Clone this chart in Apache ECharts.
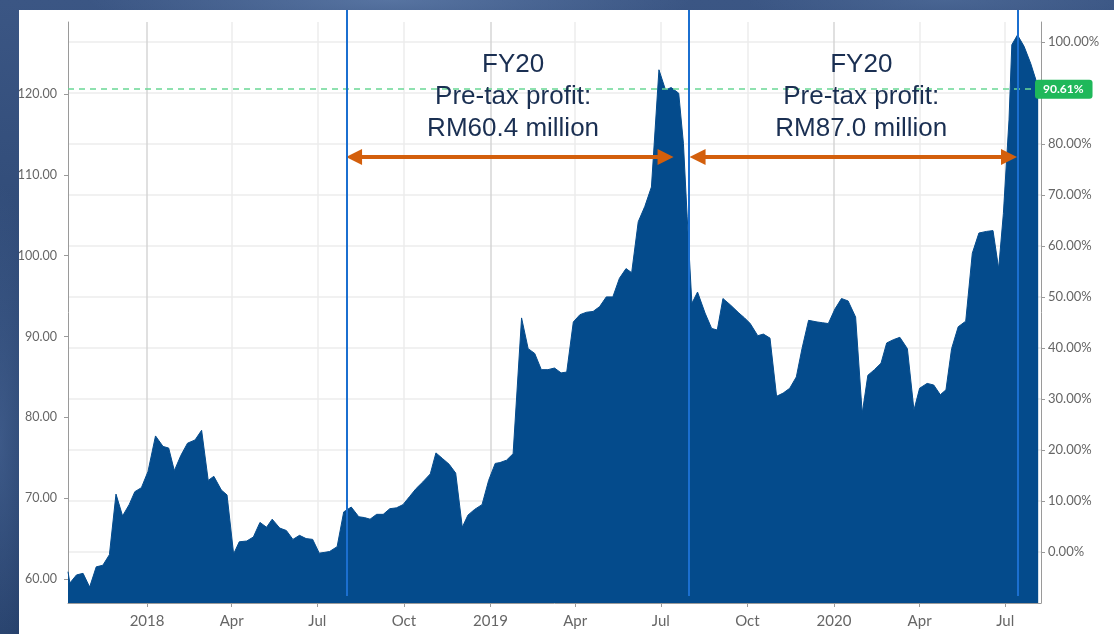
<!DOCTYPE html>
<html>
<head>
<meta charset="utf-8">
<script src="https://cdn.jsdelivr.net/npm/echarts@6/dist/echarts.min.js"></script>
<style>
  html, body {
    margin: 0;
    width: 1114px;
    height: 634px;
    overflow: hidden;
  }
  body {
    background:
      radial-gradient(ellipse 300px 40px at 35% 0%, rgba(110, 140, 185, 0.55), transparent),
      radial-gradient(ellipse 200px 30px at 85% 0%, rgba(90, 120, 165, 0.45), transparent),
      radial-gradient(ellipse 40px 260px at 0% 70%, rgba(80, 110, 160, 0.5), transparent),
      linear-gradient(180deg, #3b5684 0%, #2d4874 50%, #243e68 100%);
  }
  #chart {
    position: absolute;
    left: 19px;
    top: 10px;
    width: 1095px;
    height: 624px;
    background: #fff;
  }
</style>
</head>
<body>
<div id="chart"></div>
<script>
// weekly closing prices
const dates2017 = ['2017-10-09', '2017-10-11', '2017-10-18', '2017-10-25', '2017-11-01', '2017-11-08', '2017-11-15',
  '2017-11-22', '2017-11-29', '2017-12-06', '2017-12-13', '2017-12-19', '2017-12-26'];
const prices2017 = [60.9, 59.5, 60.5, 60.7, 59.0, 61.5, 61.7, 63.0, 70.5, 67.8, 69.2, 70.8, 71.3];

const dates2018 = ['2018-01-02', '2018-01-10', '2018-01-18', '2018-01-24', '2018-01-30', '2018-02-06', '2018-02-13',
  '2018-02-21', '2018-02-28', '2018-03-07', '2018-03-13', '2018-03-21', '2018-03-27', '2018-04-03', '2018-04-09',
  '2018-04-17', '2018-04-24', '2018-05-01', '2018-05-08', '2018-05-14', '2018-05-22', '2018-05-29', '2018-06-05',
  '2018-06-12', '2018-06-19', '2018-06-26', '2018-07-03', '2018-07-09', '2018-07-14', '2018-07-22', '2018-07-29',
  '2018-08-06', '2018-08-14', '2018-08-20', '2018-08-26', '2018-09-02', '2018-09-09', '2018-09-16', '2018-09-23',
  '2018-09-30', '2018-10-07', '2018-10-14', '2018-10-21', '2018-10-29', '2018-11-04', '2018-11-11', '2018-11-18',
  '2018-11-25', '2018-12-02', '2018-12-08', '2018-12-15', '2018-12-23', '2018-12-30'];
const prices2018 = [73.3, 77.7, 76.4, 76.2, 73.4, 75.3, 76.8, 77.2, 78.4, 72.2, 72.7, 71.0, 70.4, 63.1, 64.6,
  64.7, 65.2, 67.0, 66.4, 67.4, 66.3, 66.0, 64.9, 65.4, 65.0, 64.9, 63.2, 63.3, 63.4, 64.0, 68.3,
  68.9, 67.7, 67.6, 67.4, 68.0, 68.0, 68.7, 68.8, 69.2, 70.2, 71.2, 72.0, 73.0, 75.6, 74.9, 74.2,
  73.1, 66.4, 67.9, 68.6, 69.2, 72.2];

const dates2019 = ['2019-01-06', '2019-01-11', '2019-01-18', '2019-01-25', '2019-02-03', '2019-02-10', '2019-02-17',
  '2019-02-24', '2019-03-03', '2019-03-10', '2019-03-17', '2019-03-23', '2019-03-30', '2019-04-06', '2019-04-13',
  '2019-04-20', '2019-04-27', '2019-05-04', '2019-05-11', '2019-05-18', '2019-05-25', '2019-05-31', '2019-06-07',
  '2019-06-14', '2019-06-21', '2019-06-29', '2019-07-06', '2019-07-12', '2019-07-20', '2019-07-25', '2019-07-29',
  '2019-08-03', '2019-08-09', '2019-08-17', '2019-08-24', '2019-08-30', '2019-09-05', '2019-09-13', '2019-09-22',
  '2019-09-28', '2019-10-04', '2019-10-12', '2019-10-18', '2019-10-25', '2019-11-01', '2019-11-08', '2019-11-15',
  '2019-11-22', '2019-11-28', '2019-12-05', '2019-12-14', '2019-12-20', '2019-12-26'];
const prices2019 = [74.3, 74.4, 74.7, 75.5, 92.3, 88.5, 87.9, 85.9, 85.9, 86.1, 85.5, 85.6, 91.8, 92.7, 93.0,
  93.1, 93.7, 94.9, 94.9, 97.2, 98.4, 97.9, 104.2, 106.1, 108.5, 123.0, 120.5, 120.8, 120.1, 113.9, 104.8,
  94.1, 95.5, 92.9, 91.0, 90.8, 94.7, 93.9, 92.9, 92.3, 91.6, 90.1, 90.3, 89.8, 82.6, 83.0, 83.6,
  85.0, 88.5, 92.0, 91.8, 91.7, 91.6];

const dates2020 = ['2020-01-02', '2020-01-09', '2020-01-16', '2020-01-24', '2020-01-31', '2020-02-06', '2020-02-13',
  '2020-02-20', '2020-02-26', '2020-03-04', '2020-03-11', '2020-03-19', '2020-03-26', '2020-04-01', '2020-04-09',
  '2020-04-16', '2020-04-23', '2020-04-29', '2020-05-05', '2020-05-12', '2020-05-20', '2020-05-27', '2020-06-03',
  '2020-06-11', '2020-06-18', '2020-06-24', '2020-06-29', '2020-07-05', '2020-07-08', '2020-07-14', '2020-07-21',
  '2020-07-28', '2020-08-03', '2020-08-05'];
const prices2020 = [93.4, 94.7, 94.4, 92.4, 80.5, 85.2, 85.9, 86.7, 89.2, 89.6, 89.9, 88.5, 80.9, 83.6, 84.2,
  84.0, 82.8, 83.4, 88.5, 91.2, 91.9, 100.3, 102.8, 103.0, 103.1, 98.4, 105.2, 116.8, 126.1, 127.3, 125.9,
  123.8, 121.6, 120.6];

// axis ticks
const xTickDates = ['2018-01-01', '2018-04-01', '2018-07-01', '2018-10-01', '2019-01-01', '2019-04-01',
  '2019-07-01', '2019-10-01', '2020-01-01', '2020-04-01', '2020-07-01'];
const priceTicks = [60, 70, 80, 90, 100, 110, 120];
const percentTicks = [0, 10, 20, 30, 40, 50, 60, 70, 80, 90, 100];
const monthNames = ['Jan', 'Feb', 'Mar', 'Apr', 'May', 'Jun', 'Jul', 'Aug', 'Sep', 'Oct', 'Nov', 'Dec'];

// annotations
const fyLineDates = ['2018-08-01', '2019-07-31', '2020-07-14'];
const arrowRanges = [['2018-08-09', '2019-07-06'], ['2019-08-09', '2020-07-05']];
const arrowPrice = 112.2;
const profitTexts = ['FY20\nPre-tax profit:\nRM60.4 million', 'FY20\nPre-tax profit:\nRM87.0 million'];
const profitTextDates = ['2019-01-25', '2020-01-30'];
const profitTextPrice = 119.7;
const changeLabel = '90.61%';

const parse = function (s) { return echarts.time.parse(s).getTime(); };

const dates = dates2017.concat(dates2018, dates2019, dates2020);
const prices = prices2017.concat(prices2018, prices2019, prices2020);
const lastPrice = prices[prices.length - 1];

const xMin = parse('2017-10-09');
const xMax = parse('2020-08-08');

const chart = echarts.init(document.getElementById('chart'));

const labelFont = { fontFamily: 'Lato', color: '#666' };

const markLineData = [
  {
    yAxis: lastPrice,
    lineStyle: { color: '#6ad895', type: [6, 5], width: 1.5 },
    label: {
      show: true,
      position: 'end',
      distance: -6,
      formatter: changeLabel,
      color: '#fff',
      fontFamily: 'Lato',
      fontWeight: 'bold',
      fontSize: 12,
      backgroundColor: '#1fb85a',
      borderRadius: 3,
      padding: [4, 9, 3, 8]
    }
  }
];
arrowRanges.forEach(function (r) {
  markLineData.push([
    { coord: [parse(r[0]), arrowPrice], symbol: 'triangle', symbolSize: 16,
      lineStyle: { color: '#d35f0c', width: 4, type: 'solid' }, label: { show: false } },
    { coord: [parse(r[1]), arrowPrice], symbol: 'triangle', symbolSize: 16 }
  ]);
});

// the FY divider lines run above the plot, so they live on a taller overlay grid
const fyMarkData = fyLineDates.map(function (d) {
  return [{ coord: [parse(d), 1] }, { coord: [parse(d), 0] }];
});

chart.setOption({
  animation: false,
  grid: [
    { left: 49, right: 73, top: 12, bottom: 31, outerBoundsMode: 'none', containLabel: false },
    { left: 49, right: 73, top: 0, bottom: 38, outerBoundsMode: 'none', containLabel: false }
  ],
  xAxis: [
    {
      type: 'value',
      gridIndex: 0,
      min: xMin,
      max: xMax,
      axisLine: { onZero: false, lineStyle: { color: '#9a9a9a', width: 1 } },
      axisTick: {
        show: true,
        length: 4,
        customValues: xTickDates.map(parse),
        lineStyle: { color: '#9a9a9a' }
      },
      axisLabel: Object.assign({
        fontSize: 15,
        margin: 11,
        customValues: xTickDates.map(parse),
        formatter: function (val) {
          const d = new Date(val);
          return d.getMonth() === 0 ? String(d.getFullYear()) : monthNames[d.getMonth()];
        }
      }, labelFont),
      splitLine: {
        show: true,
        lineStyle: { color: ['#d6d6d6', '#ececec', '#ececec', '#ececec'], width: 1.5 }
      }
    },
    {
      type: 'value',
      gridIndex: 1,
      min: xMin,
      max: xMax,
      show: false
    }
  ],
  yAxis: [
    {
      type: 'value',
      gridIndex: 0,
      position: 'left',
      min: 57.03,
      max: 128.91,
      axisLine: { show: true, onZero: false, lineStyle: { color: '#9a9a9a' } },
      axisTick: { show: true, length: 4, customValues: priceTicks, lineStyle: { color: '#9a9a9a' } },
      axisLabel: Object.assign({
        fontSize: 12.5,
        margin: 11,
        customValues: priceTicks,
        formatter: function (v) { return v.toFixed(2); }
      }, labelFont),
      splitLine: { show: false }
    },
    {
      type: 'value',
      gridIndex: 0,
      position: 'right',
      min: -10,
      max: 103.9,
      axisLine: { show: true, onZero: false, lineStyle: { color: '#9a9a9a' } },
      axisTick: { show: true, length: 4, customValues: percentTicks, lineStyle: { color: '#9a9a9a' } },
      axisLabel: Object.assign({
        fontSize: 13,
        margin: 7,
        customValues: percentTicks,
        formatter: function (v) { return v.toFixed(2) + '%'; }
      }, labelFont),
      splitLine: { show: true, lineStyle: { color: '#ececec', width: 1.5 } }
    },
    {
      type: 'value',
      gridIndex: 1,
      min: 0,
      max: 1,
      show: false
    }
  ],
  series: [
    {
      type: 'line',
      xAxisIndex: 0,
      yAxisIndex: 0,
      showSymbol: false,
      symbol: 'none',
      data: dates.map(function (d, i) { return [parse(d), prices[i]]; }),
      lineStyle: { color: '#044b8c', width: 1 },
      areaStyle: { color: '#044b8c', opacity: 1 },
      markLine: {
        silent: true,
        animation: false,
        symbol: 'none',
        data: markLineData
      },
      markPoint: {
        silent: true,
        animation: false,
        symbol: 'rect',
        symbolSize: 1,
        itemStyle: { color: 'rgba(0,0,0,0)' },
        label: {
          show: true,
          position: 'inside',
          fontFamily: 'Liberation Sans',
          fontSize: 26,
          lineHeight: 32,
          color: '#1a2f52',
          align: 'center',
          verticalAlign: 'middle'
        },
        data: profitTexts.map(function (t, i) {
          return { coord: [parse(profitTextDates[i]), profitTextPrice], value: t, label: { formatter: t } };
        })
      }
    },
    {
      type: 'line',
      xAxisIndex: 1,
      yAxisIndex: 2,
      data: [],
      z: 5,
      markLine: {
        silent: true,
        animation: false,
        symbol: 'none',
        label: { show: false },
        lineStyle: { color: '#1b6fd0', width: 2, type: 'solid' },
        data: fyMarkData
      }
    }
  ]
});
</script>
</body>
</html>
